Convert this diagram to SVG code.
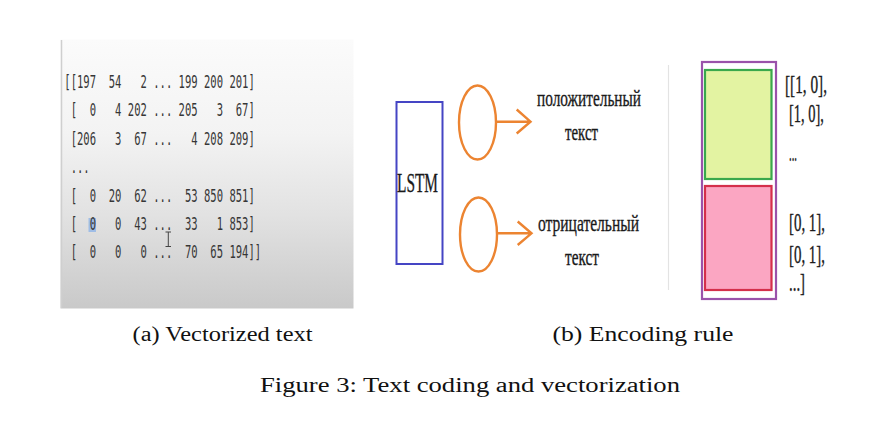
<svg xmlns="http://www.w3.org/2000/svg" width="893" height="432" viewBox="0 0 893 432">
<defs>
<linearGradient id="panelGrad" x1="0" y1="0" x2="0" y2="1">
<stop offset="0" stop-color="#fbfbfb"/>
<stop offset="0.35" stop-color="#f3f3f3"/>
<stop offset="0.65" stop-color="#e2e2e2"/>
<stop offset="1" stop-color="#c9c9c9"/>
</linearGradient>
<style>
.mono{font-family:'DejaVu Sans Mono',monospace;font-size:18px;fill:#363636;}
.ser{font-family:'Liberation Serif','Times New Roman',serif;fill:#1a1a1a;stroke:#1a1a1a;stroke-width:0.35;}
.cap{font-family:'Liberation Serif','Times New Roman',serif;fill:#111;font-size:20px;}
.orange{fill:none;stroke:#ec8431;stroke-width:2.4;}
</style>
</defs>
<rect width="893" height="432" fill="#ffffff"/>

<g id="vectorized-panel">
<rect x="60.5" y="39.5" width="293" height="269" fill="url(#panelGrad)"/>
<line x1="61.5" y1="40" x2="61.5" y2="308" stroke="#cfcfcf" stroke-width="1.5"/>
<rect x="88.5" y="218" width="7.5" height="14" fill="#9fbde6"/>
<g transform="translate(64.3,0) scale(0.586,1)">
<text class="mono" x="0" y="88" xml:space="preserve">[[197  54   2 ... 199 200 201]</text>
<text class="mono" x="0" y="116.4" xml:space="preserve"> [  0   4 202 ... 205   3  67]</text>
<text class="mono" x="0" y="144.8" xml:space="preserve"> [206   3  67 ...   4 208 209]</text>
<text class="mono" x="0" y="173.2" xml:space="preserve"> ...</text>
<text class="mono" x="0" y="201.6" xml:space="preserve"> [  0  20  62 ...  53 850 851]</text>
<text class="mono" x="0" y="230" xml:space="preserve"> [  0   0  43 ...  33   1 853]</text>
<text class="mono" x="0" y="258.4" xml:space="preserve"> [  0   0   0 ...  70  65 194]]</text>
</g>
<path d="M165.5,232 H171 M168.3,232 V246.5 M165.5,246.5 H171" fill="none" stroke="#444" stroke-width="1"/>
</g>

<g id="lstm">
<rect x="396.5" y="102" width="46" height="162" fill="#ffffff" stroke="#4545c4" stroke-width="2"/>
<text class="ser" x="397" y="191.5" font-size="27" textLength="41" lengthAdjust="spacingAndGlyphs">LSTM</text>
</g>

<g id="node-positive">
<ellipse class="orange" cx="477.5" cy="122.5" rx="18.5" ry="37"/>
<text class="ser" x="537" y="106" font-size="24" textLength="104" lengthAdjust="spacingAndGlyphs">положительный</text>
<text class="ser" x="565" y="139.5" font-size="24" textLength="33" lengthAdjust="spacingAndGlyphs">текст</text>
</g>

<g id="node-negative">
<ellipse class="orange" cx="478.5" cy="234.5" rx="18.5" ry="37"/>
<text class="ser" x="538" y="231" font-size="24" textLength="101" lengthAdjust="spacingAndGlyphs">отрицательный</text>
<text class="ser" x="565" y="265" font-size="24" textLength="34" lengthAdjust="spacingAndGlyphs">текст</text>
</g>

<g id="connectors">
<path class="orange" d="M496,121.7 H530.5 M516.7,109.5 L530.5,121.7 L516.7,133.5"/>
<path class="orange" d="M497,233.3 H531.5 M517.7,221.5 L531.5,233.3 L517.7,245"/>
</g>

<line x1="668.5" y1="65" x2="668.5" y2="290" stroke="#e3e3e3" stroke-width="1.2"/>

<g id="encoding">
<rect x="702" y="62" width="74" height="237" fill="#ffffff" stroke="#9a52aa" stroke-width="2.2"/>
<rect x="705" y="70" width="66.5" height="109" fill="#e3f3a2" stroke="#3aa84c" stroke-width="2.2"/>
<rect x="705" y="186" width="66.5" height="104" fill="#fba6c2" stroke="#d42f4b" stroke-width="2.2"/>
</g>

<g id="encoding-labels">
<text class="ser" x="785" y="93" font-size="26" textLength="42" lengthAdjust="spacingAndGlyphs">[[1, 0],</text>
<text class="ser" x="789" y="121.5" font-size="26" textLength="35" lengthAdjust="spacingAndGlyphs">[1, 0],</text>
<text class="ser" x="789" y="161" font-size="26" textLength="8" lengthAdjust="spacingAndGlyphs">...</text>
<text class="ser" x="789" y="231" font-size="26" textLength="36" lengthAdjust="spacingAndGlyphs">[0, 1],</text>
<text class="ser" x="789" y="263" font-size="26" textLength="36" lengthAdjust="spacingAndGlyphs">[0, 1],</text>
<text class="ser" x="789" y="291" font-size="26" textLength="16" lengthAdjust="spacingAndGlyphs">...]</text>
</g>

<g id="captions">
<text class="cap" x="132.5" y="341" textLength="180" lengthAdjust="spacingAndGlyphs">(a) Vectorized text</text>
<text class="cap" x="552.5" y="341" textLength="181" lengthAdjust="spacingAndGlyphs">(b) Encoding rule</text>
<text class="cap" x="260" y="392" font-size="23" textLength="420" lengthAdjust="spacingAndGlyphs">Figure 3: Text coding and vectorization</text>
</g>
</svg>
